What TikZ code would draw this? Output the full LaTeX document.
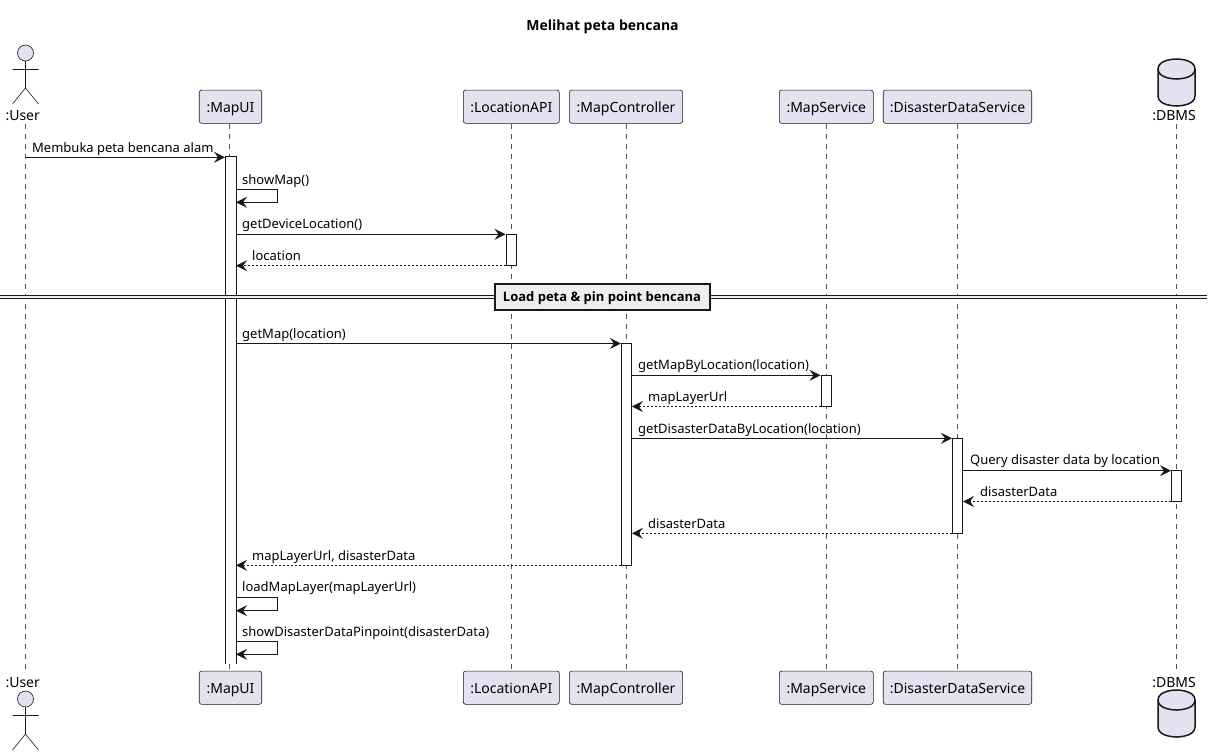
\documentclass[tikz,border=0pt]{standalone}
\usepackage{fontspec}
\setmainfont{Noto Sans}
\newfontfamily\heavyfam{Open Sans}
\usepackage{xcolor}
\usetikzlibrary{positioning}
\usetikzlibrary{arrows.meta}
\definecolor{partfill}{HTML}{E2E2F0}
\definecolor{lineink}{HTML}{181818}
\definecolor{dividerfill}{HTML}{EEEEEE}

\begin{document}
\begin{tikzpicture}[x=1pt,y=-1pt,on grid,font=\fontsize{13}{15}\selectfont,
      part/.style={draw=lineink, line width=0.6pt, fill=partfill, rounded corners=2.5pt, inner sep=0pt, minimum height=33.3pt, text height=12.5pt, text depth=0pt, font=\fontsize{14}{16}\selectfont},
      endname/.style={inner sep=0pt, text height=9.5pt, text depth=0pt, font=\fontsize{14}{16}\selectfont},
      life/.style={draw=lineink!75, line width=0.6pt, dash pattern=on 5pt off 5pt},
      bar/.style={draw=lineink, line width=1pt, fill=white, inner sep=0pt, minimum width=10pt},
      msg/.style={draw=lineink, line width=1pt, -{Stealth[length=11pt,width=11pt,inset=4pt]}},
      ret/.style={msg, dash pattern=on 2pt off 2pt},
      lbl/.style={anchor=base west, inner sep=0pt},
      pics/stickman/.style={code={
        \draw[draw=lineink, line width=0.6pt, fill=partfill] (0,0) circle (8);
        \draw[draw=lineink, line width=0.6pt] (0,8) -- (0,35) (-13,16.5) -- (13,16.5) (-13,51) -- (0,35) -- (13,51);
      }},
      pics/dbcan/.style={code={
        \draw[draw=lineink, line width=1.5pt, fill=partfill] (-18.5,10) .. controls (-18.5,0) and (0,0) .. (0,0) .. controls (0,0) and (18.5,0) .. (18.5,10) -- (18.5,37) .. controls (18.5,47) and (0,47) .. (0,47) .. controls (0,47) and (-18.5,47) .. (-18.5,37) -- cycle;
        \draw[draw=lineink, line width=1.5pt] (-18.5,10) .. controls (-18.5,20) and (0,20) .. (0,20) .. controls (0,20) and (18.5,20) .. (18.5,10);
      }}]

      \useasboundingbox (0,0) rectangle (1212,755);

      \node[font=\fontsize{14}{16}\selectfont\heavyfam\bfseries] (title) at (602.5,27) {Melihat peta bencana};

      % top row
      \node[endname] (user) at (22.7,115.25) {:User};
      \node[part, minimum width=62.5pt] (mapui) at (230.5,106.7) {:MapUI};
      \node[part, minimum width=96pt] (locapi) [right=280.8pt of mapui] {:LocationAPI};
      \node[part, minimum width=113.3pt] (mapctl) [right=114.7pt of locapi] {:MapController};
      \node[part, minimum width=94pt] (mapsvc) [right=200.3pt of mapctl] {:MapService};
      \node[part, minimum width=148.5pt] (datasvc) [right=131.2pt of mapsvc] {:DisasterDataService};
      \node[endname] (dbms) at (1174,115.25) {:DBMS};

      % bottom row
      \node[endname] (userb) [below=567pt of user] {:User};
      \node[part, minimum width=62.5pt] (mapuib) [below=581pt of mapui] {:MapUI};
      \node[part, minimum width=96pt] (locapib) [below=581pt of locapi] {:LocationAPI};
      \node[part, minimum width=113.3pt] (mapctlb) [below=581pt of mapctl] {:MapController};
      \node[part, minimum width=94pt] (mapsvcb) [below=581pt of mapsvc] {:MapService};
      \node[part, minimum width=148.5pt] (datasvcb) [below=581pt of datasvc] {:DisasterDataService};
      \node[endname] (dbmsb) [below=567pt of dbms] {:DBMS};

      \pic at (25.5,53) {stickman};
      \pic at (25.5,699) {stickman};
      \pic at (1176.5,59) {dbcan};
      \pic at (1176.5,690) {dbcan};

      \coordinate (usertop) at (25.5,124);
      \coordinate (userend) at (25.5,671);
      \coordinate (dbmstop) at (1176.7,124);
      \coordinate (dbmsend) at (1176.7,671);

      % lifelines
      \draw[life] (usertop) -- (userend);
      \draw[life] ([xshift=-1pt]mapui.south) -- ([xshift=-1pt]mapuib.north);
      \draw[life] (locapi.south) -- (locapib.north);
      \draw[life] (mapctl.south) -- (mapctlb.north);
      \draw[life] (mapsvc.south) -- (mapsvcb.north);
      \draw[life] (datasvc.south) -- (datasvcb.north);
      \draw[life] (dbmstop) -- (dbmsend);

      % activation bars
      \node[bar, draw=none, minimum height=506.2pt] (barui) at (230.5,410.4) {};
      \draw[draw=lineink, line width=1pt] (barui.south west) -- (barui.north west) -- (barui.north east) -- (barui.south east);
      \node[bar, minimum height=31.4pt] (barloc) at (511.0,250) {};
      \node[bar, minimum height=221.8pt] (barctl) at (626.4,454.4) {};
      \node[bar, minimum height=31.2pt] (barsvc) at (826.0,390.9) {};
      \node[bar, minimum height=95pt] (bardata) at (957.5,485.8) {};
      \node[bar, minimum height=30.8pt] (bardb) at (1176.5,486.1) {};

      % message rows
      \coordinate (row1) at (0,157.3);
      \coordinate (row2) at (0,189.3);
      \coordinate (row2b) at (0,202.3);
      \coordinate (row3) at (0,234.3);
      \coordinate (row4) at (0,265.7);
      \coordinate (row5) at (0,343.5);
      \coordinate (row6) at (0,375.3);
      \coordinate (row7) at (0,406.5);
      \coordinate (row8) at (0,438.3);
      \coordinate (row9) at (0,470.7);
      \coordinate (row10) at (0,501.5);
      \coordinate (row11) at (0,533.3);
      \coordinate (row12) at (0,565.3);
      \coordinate (row13) at (0,597.5);
      \coordinate (row13b) at (0,610.7);
      \coordinate (row14) at (0,641.7);
      \coordinate (row14b) at (0,654.3);
      \coordinate (selfx) at (277.5,0);

      \draw[msg] (usertop |- row1) -- (barui.west |- row1);
      \draw[msg] (barui.east |- row2) -- (selfx |- row2) -- (selfx |- row2b) -- (barui.east |- row2b);
      \draw[msg] (barui.east |- row3) -- (barloc.west |- row3);
      \draw[ret] (barloc.west |- row4) -- (barui.east |- row4);
      \draw[msg] (barui.east |- row5) -- (barctl.west |- row5);
      \draw[msg] (barctl.east |- row6) -- (barsvc.west |- row6);
      \draw[ret] (barsvc.west |- row7) -- (barctl.east |- row7);
      \draw[msg] (barctl.east |- row8) -- (bardata.west |- row8);
      \draw[msg] (bardata.east |- row9) -- (bardb.west |- row9);
      \draw[ret] (bardb.west |- row10) -- (bardata.east |- row10);
      \draw[ret] (bardata.west |- row11) -- (barctl.east |- row11);
      \draw[ret] (barctl.west |- row12) -- (barui.east |- row12);
      \draw[msg] (barui.east |- row13) -- (selfx |- row13) -- (selfx |- row13b) -- (barui.east |- row13b);
      \draw[msg] (barui.east |- row14) -- (selfx |- row14) -- (selfx |- row14b) -- (barui.east |- row14b);

      % message labels
      \node[lbl] (txt1) at (32,152.3) {Membuka peta bencana alam};
      \node[lbl] (txt2) at (242,184) {showMap()};
      \node[lbl] (txt3) at (242,228.5) {getDeviceLocation()};
      \node[lbl] (txt4) at (252,260) {location};
      \node[lbl] (txt5) at (242,338) {getMap(location)};
      \node[lbl] (txt6) at (638,369.6) {getMapByLocation(location)};
      \node[lbl] (txt7) at (648,401) {mapLayerUrl};
      \node[lbl] (txt8) at (638,433) {getDisasterDataByLocation(location)};
      \node[lbl] (txt9) at (970,464) {Query disaster data by location};
      \node[lbl] (txt10) at (980,496) {disasterData};
      \node[lbl] (txt11) at (648,528) {disasterData};
      \node[lbl] (txt12) at (252,560) {mapLayerUrl, disasterData};
      \node[lbl] (txt13) at (242,591) {loadMapLayer(mapLayerUrl)};
      \node[lbl] (txt14) at (242,636) {showDisasterDataPinpoint(disasterData)};

      % divider
      \coordinate (dleft) at (0,296.8);
      \coordinate (dright) at (1207,296.8);
      \draw[draw=lineink, line width=4pt] (dleft) -- (dright);
      \draw[draw=dividerfill, line width=2pt] (dleft) -- (dright);
      \node[draw=lineink, line width=2pt, fill=dividerfill, inner sep=0pt, minimum width=215pt, minimum height=26pt, text height=9.5pt, text depth=0pt, font=\fontsize{13}{15}\selectfont\heavyfam\bfseries] (load) at (602,296.7) {Load peta \& pin point bencana};
\end{tikzpicture}
\end{document}
